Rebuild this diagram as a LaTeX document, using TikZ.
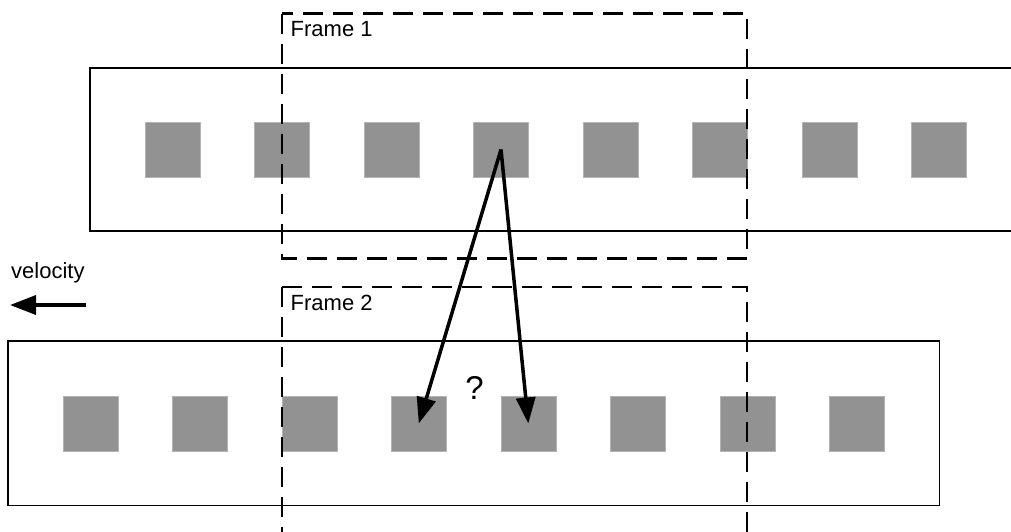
\documentclass[tikz,border=0pt]{standalone}
\usepackage{fontspec}
\setmainfont{Liberation Sans}
\usetikzlibrary{arrows.meta}
\definecolor{sqgray}{RGB}{146,146,146}
\tikzset{
  cell/.style={fill=sqgray, draw=sqgray!70!white, line width=0.6pt,
               minimum width=55pt, minimum height=55pt, inner sep=0pt},
  strip/.style={draw=black, line width=1.7pt},
  framebox/.style={draw=black, line width=2.3pt, dash pattern=on 20pt off 10pt},
  motion/.style={draw=black, line width=3.5pt,
                 -{Triangle[length=26pt,width=19pt]}},
  lbl/.style={font=\fontsize{22}{26}\selectfont, inner sep=0pt},
}
\begin{document}
\begin{tikzpicture}[x=1pt,y=-1pt]
  \clip (0,0) rectangle (1011,531);
  \fill[white] (0,0) rectangle (1011,531);

  % upper film strip (runs off the right edge)
  \draw[strip] (1030,68) -- (90,68) -- (90,231) -- (1030,231);
  % lower film strip
  \draw[strip] (8,341) rectangle (939.5,505.5);

  % blocks on the upper strip
  \foreach \i in {1,...,8} {
    \node[cell] (t\i) at ({172.5+109.5*(\i-1)},149.5) {};
  }
  % blocks on the lower strip
  \foreach \i in {1,...,8} {
    \node[cell] (b\i) at ({90.3+109.5*(\i-1)},423.5) {};
  }

  % camera frames
  \draw[framebox] (282,13.5) rectangle (747.3,258.5);
  \draw[framebox] (282,287) -- (282,545);
  \draw[framebox] (282,287) -- (747.3,287) -- (747.3,545);

  \node[lbl, anchor=base west] (f1) at (290.5,36.5) {Frame 1};
  \node[lbl, anchor=base west] (f2) at (290.5,310.5) {Frame 2};

  % velocity indicator
  \node[lbl, anchor=base west] (vel) at (11,278) {velocity};
  \coordinate (vstart) at (86,305);
  \coordinate (vend) at (10,305);
  \draw[motion] (vstart) -- (vend);

  % candidate correspondences
  \draw[motion] (t4.center) -- (b4.center);
  \draw[motion] (t4.center) -- (b5.center);
  \node[font=\fontsize{33}{36}\selectfont, inner sep=0pt, anchor=base]
    (q) at (474.5,399) {?};
\end{tikzpicture}
\end{document}
